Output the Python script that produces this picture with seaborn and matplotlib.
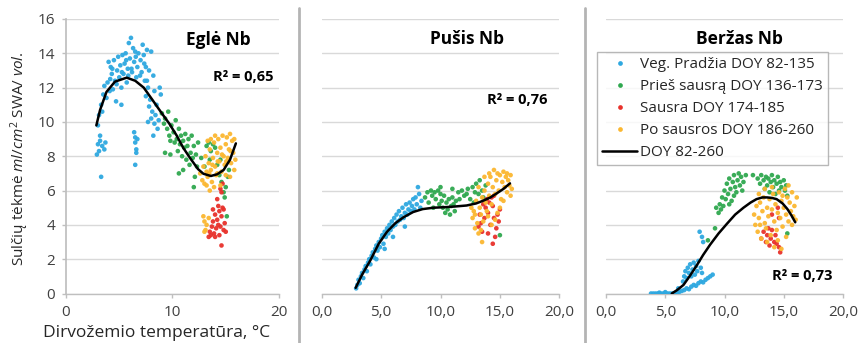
import numpy as np
import pandas as pd
import matplotlib
matplotlib.use("Agg")
import matplotlib.pyplot as plt
import seaborn as sns
from matplotlib.lines import Line2D

# ---------------- data ----------------
groups = ["Veg. Pradžia DOY 82-135", "Prieš sausrą DOY 136-173",
          "Sausra DOY 174-185", "Po sausros DOY 186-260"]
curve_label = "DOY 82-260"
panel_titles = ["Eglė Nb", "Pušis Nb", "Beržas Nb"]
r2_labels = ["R² = 0,65", "R² = 0,76", "R² = 0,73"]

# Panel 1: Eglė
egle_blue = [(4.0,13.5),(4.2,13.2),(4.3,12.8),(4.5,13.6),(4.6,12.4),(4.8,13.0),(4.9,13.8),(5.0,12.6),(5.1,13.3),(5.2,12.0),
             (5.3,13.9),(5.4,12.8),(5.5,13.4),(5.6,14.0),(5.7,12.3),(5.8,13.1),(5.9,14.6),(6.0,13.7),(6.1,14.9),(6.2,12.9),
             (6.3,14.3),(6.4,13.5),(6.5,14.1),(6.6,12.6),(6.7,13.2),(6.8,14.0),(7.0,13.6),(7.1,12.9),(7.2,14.5),(7.3,13.9),
             (7.4,12.4),(7.5,13.2),(7.6,14.2),(7.7,12.0),(7.8,13.0),(8.0,14.1),(8.2,12.7),(8.3,11.8),
             (4.35,13.1),(4.75,12.2),(5.25,12.9),(5.65,13.6),(6.15,13.1),(6.55,13.8),(6.95,12.7),(7.35,13.4),(4.15,12.5),(5.85,12.7),
             (3.0,9.8),(3.1,10.4),(3.3,11.0),(3.4,10.6),(3.5,11.6),(3.6,12.1),(3.8,11.4),(3.9,12.3),(4.1,11.8),(4.4,11.9),
             (4.7,11.2),(5.2,11.0),(3.2,9.2),
             (2.9,8.1),(3.0,8.7),(3.1,8.3),(3.2,8.9),(3.4,8.6),(3.6,8.4),(3.7,8.8),(3.3,6.8),
             (6.4,9.4),(6.5,8.8),(6.5,9.1),(6.6,8.4),(6.6,8.2),(6.7,9.0),(6.5,7.5),
             (7.5,11.5),(7.8,10.9),(7.9,11.3),(8.0,10.2),(8.1,10.6),(8.3,9.9),(8.4,10.4),(8.5,11.0),(8.6,9.6),(8.7,10.1),
             (8.9,11.6),(8.2,9.2),(7.7,10.0),(7.6,12.4),(8.8,12.0)]
egle_green = [(9.0,10.5),(9.2,9.9),(9.3,10.2),(9.5,9.6),(9.6,10.6),(9.7,9.2),(9.8,8.9),(9.9,9.8),(10.1,9.4),(10.2,8.8),
              (10.3,10.1),(10.4,9.0),(10.5,8.3),(10.6,9.6),(10.7,8.7),(10.8,9.2),(10.9,8.0),(11.0,8.9),(11.1,8.5),(11.2,9.3),
              (11.3,7.8),(11.4,8.6),(11.5,9.0),(11.6,7.5),(11.7,8.2),(11.8,9.2),(11.9,7.9),(12.0,8.6),(12.1,6.8),(12.2,8.1),
              (12.3,7.4),(12.4,8.8),(11.0,7.2),(10.6,7.0),(12.0,6.2),(9.3,8.2),(9.8,8.1),(13.2,8.6),(13.4,8.8),(13.6,8.3),
              (13.8,8.7),(13.5,7.8),(14.0,8.5),(14.2,7.5),(14.4,6.9),(14.6,6.5),(14.8,5.9),(15.0,6.2),(14.9,5.6),(15.2,6.8),
              (15.1,4.5),(14.5,7.8),(15.3,7.2),(13.0,7.4),(12.7,7.9)]
egle_red = [(13.4,3.3),(13.5,3.6),(13.6,3.4),(13.7,3.9),(13.8,4.2),(13.9,3.5),(14.0,4.6),(14.1,3.8),(14.2,4.3),(14.3,5.1),
            (14.4,4.8),(14.5,3.9),(14.6,4.5),(14.7,5.0),(14.8,3.7),(14.9,4.1),(14.2,5.5),(14.6,5.9),(14.7,6.4),(14.5,6.1),
            (14.8,4.9),(14.4,3.4),(14.0,3.3),(14.6,2.8),(15.0,3.6),(14.3,4.0),(13.8,4.9)]
egle_orange = [(12.6,7.0),(12.8,6.6),(12.9,7.4),(13.0,6.4),(13.1,8.0),(13.2,7.1),(13.3,6.8),(13.4,7.6),(13.5,8.4),(13.6,7.2),
               (13.7,6.5),(13.8,7.9),(13.9,8.8),(14.0,7.4),(14.1,6.9),(14.2,8.2),(14.3,9.0),(14.4,7.7),(14.5,8.5),(14.6,7.1),
               (14.7,9.2),(14.8,8.0),(14.9,7.5),(15.0,8.7),(15.1,9.1),(15.2,7.9),(15.3,8.4),(15.4,9.3),(15.5,7.6),(15.6,8.9),
               (15.7,8.2),(15.8,9.0),(15.9,7.8),(13.3,8.9),(13.6,9.0),(14.0,9.2),(14.5,6.3),(13.9,6.2),(15.0,6.9),(15.4,6.8),
               (15.8,7.2),(14.2,7.0),(13.5,6.0),(13.2,6.3),(13.75,7.5),(14.25,7.7),(14.65,8.1),(15.05,7.7),(15.45,8.3),(13.45,7.0),
               (12.9,4.5),(13.0,4.2),(13.1,3.7),(13.2,4.0),(13.4,4.4),(13.0,3.6)]
egle_curve = [(2.85,9.8),(3.2,10.7),(3.8,11.75),(4.6,12.35),(5.7,12.58),(6.5,12.4),(7.3,12.0),(8.1,11.3),(9.0,10.5),
              (9.7,9.9),(10.4,9.2),(11.0,8.5),(11.7,7.85),(12.4,7.25),(12.9,6.98),(13.6,6.85),(14.2,6.95),(14.8,7.2),
              (15.4,7.8),(15.95,8.75)]

# Panel 2: Pušis
pusis_blue = [(2.9,0.3),(3.0,0.5),(3.1,0.8),(3.2,0.6),(3.3,1.0),(3.4,1.2),(3.5,0.9),(3.6,1.4),(3.7,1.6),(3.8,1.3),
              (3.9,1.8),(4.0,2.0),(4.1,1.7),(4.2,2.2),(4.3,2.4),(4.4,2.1),(4.5,2.6),(4.6,2.8),(4.7,2.5),(4.8,3.0),
              (4.9,2.7),(5.0,3.2),(5.1,3.4),(5.2,2.9),(5.3,3.6),(5.4,3.3),(5.5,3.8),(5.6,3.5),(5.7,4.0),(5.8,3.7),
              (5.9,4.2),(6.0,3.9),(6.1,4.4),(6.2,4.0),(6.3,4.6),(6.4,4.2),(6.5,4.8),(6.6,4.3),(6.7,4.5),(6.8,5.0),
              (6.9,4.4),(7.0,4.7),(7.1,5.2),(7.2,4.6),(7.3,4.9),(7.4,5.3),(7.5,4.8),(7.6,5.1),(7.7,5.5),(7.8,4.9),
              (7.9,5.6),(8.0,5.2),(8.1,6.2),(8.2,5.8),(8.3,5.0),(8.4,5.4),(5.3,2.6),(6.0,3.3),(7.0,3.9),(4.6,2.0)]
pusis_green = [(8.7,5.6),(8.9,5.9),(9.0,5.3),(9.2,6.0),(9.3,5.7),(9.5,5.9),(9.6,5.5),(9.8,6.0),(9.9,5.2),(10.0,5.8),
               (10.1,5.4),(10.2,5.0),(10.3,5.7),(10.4,4.7),(10.5,5.3),(10.6,4.9),(10.7,5.5),(10.8,4.6),(10.9,5.1),(11.0,5.6),
               (11.1,5.2),(11.2,4.8),(11.3,5.4),(11.5,5.9),(11.6,5.5),(11.8,6.0),(12.0,5.7),(12.2,5.8),(12.3,6.1),(12.5,5.5),
               (12.7,6.2),(12.9,5.9),(13.0,6.4),(13.2,5.8),(13.3,6.6),(13.5,6.0),(13.6,5.6),(13.8,6.3),(9.4,5.0),(10.0,6.2),
               (11.0,6.1),(12.8,5.3),(15.0,3.4)]
pusis_red = [(13.2,3.9),(13.4,4.1),(13.5,3.6),(13.7,4.4),(13.8,5.0),(13.9,5.5),(14.0,4.7),(14.1,5.3),(14.2,4.0),(14.3,5.6),
             (14.4,5.1),(14.5,4.4),(14.6,3.3),(14.7,3.8),(14.8,4.6),(14.5,5.7),(13.6,5.2),(14.0,3.5),(14.4,2.9),(15.0,4.9),
             (14.9,4.2),(13.3,4.6)]
pusis_orange = [(12.6,5.0),(12.7,4.4),(12.8,4.8),(12.9,3.8),(13.0,5.4),(13.1,4.1),(13.2,3.5),(13.3,5.0),(13.4,4.6),(13.5,3.0),
                (13.5,5.6),(13.6,4.2),(13.7,6.0),(13.8,5.3),(13.9,4.8),(14.0,6.4),(14.1,5.7),(14.2,6.8),(14.3,5.2),(14.4,6.2),
                (14.5,7.2),(14.6,5.8),(14.7,6.6),(14.8,7.0),(14.9,6.0),(15.0,6.9),(15.1,5.5),(15.2,6.5),(15.3,7.1),(15.4,6.2),
                (15.5,6.8),(15.6,5.9),(15.7,6.6),(15.8,6.3),(15.9,6.9),(16.0,6.1),(14.0,4.5),(14.3,4.0),(14.6,4.3),(15.0,5.0),
                (15.3,5.4),(14.8,4.7),(13.2,6.2),(13.7,6.8),(14.1,7.0),(15.6,7.0),(12.9,4.6),(13.4,3.7),(15.9,5.7)]
pusis_curve = [(2.86,0.33),(3.4,1.1),(4.07,1.9),(4.8,2.9),(5.5,3.6),(6.2,4.1),(6.9,4.45),(7.7,4.75),(8.5,4.92),(9.4,5.0),
               (10.3,5.03),(11.2,5.07),(12.2,5.13),(13.0,5.25),(13.6,5.41),(14.2,5.6),(14.7,5.82),(15.3,6.1),(15.85,6.42)]

# Panel 3: Beržas
berzas_blue = [(3.8,0.0),(4.0,0.0),(4.2,0.0),(4.4,0.0),(4.6,0.0),(4.8,0.0),(5.0,0.0),(5.2,0.0),(5.4,0.0),(5.6,0.0),
               (5.8,0.0),(6.0,0.05),(6.2,0.1),(6.4,0.15),(6.6,0.2),(6.8,0.3),(7.0,0.25),(7.2,0.4),(7.4,0.5),(7.6,0.45),
               (7.8,0.6),(8.0,0.7),(8.2,0.65),(8.4,0.8),(8.6,0.9),(8.8,1.0),(9.0,1.1),(6.5,0.7),(6.6,1.0),(6.7,1.3),
               (6.8,0.9),(6.9,1.5),(7.0,1.2),(7.1,1.7),(7.2,1.0),(7.3,1.4),(7.4,1.8),(7.5,1.1),(7.6,1.6),(7.7,1.3),
               (7.8,1.9),(8.0,1.5),(8.1,1.2),(8.1,3.3),(8.2,3.0),(7.9,3.6),(4.5,0.05),(5.0,0.08),(6.1,0.3)]
berzas_green = [(8.6,3.1),(9.2,3.8),(9.3,5.0),(9.5,4.7),(9.6,5.2),(9.8,5.6),(9.9,5.1),(10.0,6.0),(10.1,5.5),(10.2,6.4),
                (10.3,5.8),(10.4,6.7),(10.5,6.1),(10.6,5.4),(10.7,6.5),(10.8,6.9),(10.9,6.2),(11.0,5.9),(11.1,6.6),(11.2,7.0),
                (11.3,6.3),(11.4,6.8),(11.5,6.0),(11.6,6.5),(11.8,6.9),(10.4,5.2),(10.8,5.7),(9.7,4.9),
                (13.0,6.4),(13.1,6.9),(13.3,6.6),(13.4,6.1),(13.5,6.8),(13.6,6.3),(13.7,6.7),(13.8,5.9),(13.9,6.5),(14.0,6.9),
                (14.1,6.2),(14.2,6.6),(14.3,5.8),(14.4,6.4),(14.5,6.8),(14.6,6.0),(14.7,6.5),(14.8,6.2),(15.0,6.6),(15.1,6.0),
                (15.2,6.3),(15.3,5.7),(12.4,6.9),(12.8,6.7),(15.3,3.5)]
berzas_red = [(13.1,3.2),(13.3,3.6),(13.5,3.0),(13.6,3.4),(13.8,2.8),(13.9,3.2),(14.0,3.7),(14.2,3.0),(14.3,3.4),(14.6,2.7),
              (14.7,2.4),(13.7,3.8),(14.4,2.9),(14.0,4.6),(14.5,5.0),(14.6,4.4)]
berzas_orange = [(12.5,4.6),(12.6,4.0),(12.7,5.1),(12.8,3.6),(12.9,4.4),(13.0,5.3),(13.1,3.2),(13.2,4.8),(13.3,5.6),(13.4,4.1),
                 (13.5,3.8),(13.6,5.0),(13.7,4.5),(13.8,5.5),(13.9,3.4),(14.0,4.9),(14.1,5.8),(14.2,4.2),(14.3,5.2),(14.4,3.7),
                 (14.5,4.7),(14.6,5.9),(14.7,4.4),(14.8,5.4),(14.9,3.9),(15.0,5.0),(15.1,6.1),(15.2,4.6),(15.3,5.6),(15.4,4.2),
                 (15.5,5.3),(15.6,4.8),(15.7,5.9),(15.8,4.5),(15.9,5.1),(16.0,4.3),(16.1,5.6),(13.6,3.0),(14.2,2.7),(14.8,2.6),
                 (15.2,3.3),(13.0,4.0),(14.0,6.2),(15.4,6.3),(12.9,5.8),(14.5,3.1),(15.7,4.0),(13.4,6.1),(14.9,5.7)]
berzas_curve = [(5.55,0.0),(6.0,0.2),(6.54,0.5),(7.1,1.05),(7.66,1.64),(8.2,2.25),(8.79,2.85),(9.5,3.5),(10.2,4.06),
                (10.9,4.6),(11.6,5.0),(12.2,5.3),(12.7,5.5),(13.2,5.6),(13.6,5.6),(14.0,5.57),(14.4,5.5),(14.9,5.25),
                (15.3,4.93),(15.65,4.55),(15.97,4.15)]

panels = [
    dict(blue=egle_blue, green=egle_green, red=egle_red, orange=egle_orange, curve=egle_curve),
    dict(blue=pusis_blue, green=pusis_green, red=pusis_red, orange=pusis_orange, curve=pusis_curve),
    dict(blue=berzas_blue, green=berzas_green, red=berzas_red, orange=berzas_orange, curve=berzas_curve),
]

# ---------------- style ----------------
colors = {groups[0]: "#2EA8E0", groups[1]: "#2FA84F", groups[2]: "#E8312B", groups[3]: "#FBB730"}
sns.set_theme(style="white")
FONT = "Open Sans"
plt.rcParams["font.family"] = [FONT, "DejaVu Sans"]
plt.rcParams["mathtext.fontset"] = "custom"
plt.rcParams["mathtext.it"] = FONT + ":italic"
plt.rcParams["mathtext.rm"] = FONT

fig = plt.figure(figsize=(8.62, 3.43), dpi=100)
W, H = 862, 343
boxes = [(66, 279), (321.7, 559.3), (606, 843)]
y_top_px, y_bot_px = 19, 293.5
axes = []
for (l, r) in boxes:
    ax = fig.add_axes([l / W, (H - y_bot_px) / H, (r - l) / W, (y_bot_px - y_top_px) / H])
    axes.append(ax)

title_pos = [(14.3, 14.75), (12.2, 14.85), (11.3, 14.85)]
r2_pos = [(16.6, 12.6), (16.5, 11.3), (16.6, 1.0)]
key = ["blue", "green", "red", "orange"]

for i, (ax, p) in enumerate(zip(axes, panels)):
    rows = []
    for g, k in zip(groups, key):
        for (x, y) in p[k]:
            rows.append((g, x, y))
    df = pd.DataFrame(rows, columns=["group", "x", "y"])
    sns.scatterplot(data=df, x="x", y="y", hue="group", palette=colors, hue_order=groups,
                    s=11, linewidth=0, alpha=0.95, ax=ax, legend=False, zorder=3)
    cdf = pd.DataFrame(p["curve"], columns=["x", "y"])
    sns.lineplot(data=cdf, x="x", y="y", sort=False, color="black", linewidth=1.8, ax=ax, zorder=4)

    ax.set_xlim(0, 20)
    ax.set_ylim(0, 16)
    ax.set_yticks(np.arange(0, 17, 2))
    ax.grid(axis="y", color="#D9D9D9", linewidth=1.0)
    ax.set_axisbelow(True)
    for s in ["top", "right"]:
        ax.spines[s].set_visible(False)
    ax.spines["bottom"].set_color("#BFBFBF")
    ax.spines["bottom"].set_linewidth(1.0)
    ax.tick_params(axis="x", bottom=True, length=3, width=1, color="#BFBFBF",
                   labelsize=11, labelcolor="#404040", pad=5)
    ax.set_xlabel("")
    ax.set_ylabel("")
    ax.text(*title_pos[i], panel_titles[i], ha="center", va="center",
            fontsize=12.5, fontweight="bold", color="black")
    ax.text(*r2_pos[i], r2_labels[i], ha="center", va="center",
            fontsize=10.5, fontweight="bold", color="black")
    if i == 0:
        ax.set_xticks([0, 10, 20])
        ax.set_xticklabels(["0", "10", "20"])
        ax.spines["left"].set_color("#BFBFBF")
        ax.tick_params(axis="y", left=True, length=3, width=1, color="#BFBFBF",
                       labelsize=11, labelcolor="#404040", pad=5)
        ax.set_xlabel("Dirvožemio temperatūra, °C", fontsize=12.5, color="#262626")
        ax.xaxis.set_label_coords(0.425, -0.144)
        ax.xaxis.label.set_va("center")
        ax.set_ylabel(r"Sulčių tėkmė $\mathit{ml/cm^2}$ SWA/ $\mathit{vol.}$", fontsize=11,
                      color="#262626")
        ax.yaxis.set_label_coords(-0.216, 0.49)
        ax.yaxis.label.set_va("center")
    else:
        ax.set_xticks([0, 5, 10, 15, 20])
        ax.set_xticklabels(["0,0", "5,0", "10,0", "15,0", "20,0"])
        ax.spines["left"].set_visible(False)
        ax.tick_params(axis="y", left=False, labelleft=False)

# legend in third panel
handles = [Line2D([0], [0], marker="o", linestyle="none", markersize=3.4, markerfacecolor=colors[g],
                  markeredgewidth=0) for g in groups]
handles.append(Line2D([0], [0], color="black", linewidth=1.8))
leg = fig.legend(handles, groups + [curve_label], loc="upper left",
                 bbox_to_anchor=(597 / W, 1 - 52 / H), bbox_transform=fig.transFigure,
                 fontsize=11, frameon=True, fancybox=False, edgecolor="#A6A6A6",
                 handlelength=2.3, handletextpad=0.15, labelspacing=0.45, borderpad=0.35,
                 borderaxespad=0)
leg.get_frame().set_linewidth(1.0)
for t in leg.get_texts():
    t.set_color("#262626")

# panel separators
for xp in [299, 585]:
    fig.add_artist(Line2D([xp / W, xp / W], [0, 1 - 8 / H], color="#B4B4B4", linewidth=2,
                          transform=fig.transFigure))

fig.savefig("out.png", dpi=100)
